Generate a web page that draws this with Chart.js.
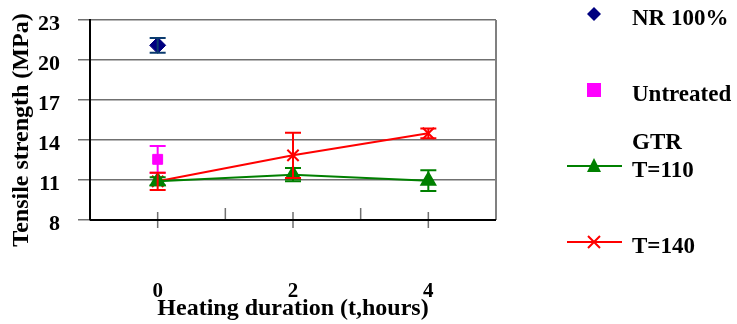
<!DOCTYPE html>
<html>
<head>
    <title>Tensile strength</title>
    <script src='https://cdn.jsdelivr.net/npm/chart.js'></script>
    <style>
        html, body { margin: 0; padding: 0; background: #fff; }
        #wrap { width: 737px; height: 324px; position: relative; }
    </style>
</head>
<body>
    <div id="wrap"><canvas id="tsChart"></canvas></div>
    <script>
        const hours = ['0', '2', '4'];
        const yTicks = [8, 11, 14, 17, 20, 23];

        const nrValues = [21.1, null, null];
        const nrErrors = [0.55, null, null];
        const untreatedValues = [12.55, null, null];
        const untreatedErrors = [1.0, null, null];
        const t110Values = [10.9, 11.4, 10.95];
        const t110Errors = [0.3, 0.5, 0.78];
        const t140Values = [10.9, 12.85, 14.5];
        const t140Errors = [0.65, 1.7, 0.37];

        const legendLabels = ['NR 100%', 'Untreated', 'T=110', 'T=140'];
        const yTitle = 'Tensile strength (MPa)';

        const serif = "'Liberation Serif', 'Times New Roman', serif";

        // error bars drawn from the error arrays
        const errorBars = {
            id: 'errorBars',
            afterDatasetsDraw(chart) {
                const ctx = chart.ctx;
                const xs = chart.scales.x, ys = chart.scales.y;
                chart.data.datasets.forEach(ds => {
                    ds.data.forEach((v, i) => {
                        const e = ds.errors[i];
                        if (v == null || e == null) return;
                        const x = xs.getPixelForValue(i);
                        const yt = ys.getPixelForValue(v + e);
                        const yb = ys.getPixelForValue(v - e);
                        ctx.save();
                        ctx.strokeStyle = ds.errColor;
                        ctx.lineWidth = 2;
                        ctx.beginPath();
                        ctx.moveTo(x, yt); ctx.lineTo(x, yb);
                        ctx.moveTo(x - 8, yt); ctx.lineTo(x + 8, yt);
                        ctx.moveTo(x - 8, yb); ctx.lineTo(x + 8, yb);
                        ctx.stroke();
                        ctx.restore();
                    });
                });
            }
        };

        // frame, x tick marks, y title and the legend on the right
        const decor = {
            id: 'decor',
            beforeDatasetsDraw(chart) {
                const ctx = chart.ctx;
                const a = chart.chartArea;
                const xs = chart.scales.x;
                ctx.save();
                ctx.strokeStyle = '#808080';
                ctx.lineWidth = 2;
                ctx.beginPath();
                ctx.moveTo(a.right, a.top); ctx.lineTo(a.right, a.bottom);
                ctx.stroke();
                ctx.strokeStyle = '#707070';
                ctx.lineWidth = 1.5;
                ctx.beginPath();
                hours.forEach((h, i) => {
                    const x = xs.getPixelForValue(i);
                    ctx.moveTo(x, a.bottom - 8); ctx.lineTo(x, a.bottom + 8);
                    if (i < hours.length - 1) {
                        const xb = (x + xs.getPixelForValue(i + 1)) / 2;
                        ctx.moveTo(xb, a.bottom - 12); ctx.lineTo(xb, a.bottom);
                    }
                });
                ctx.stroke();
                ctx.strokeStyle = '#000';
                ctx.lineWidth = 2;
                ctx.beginPath();
                ctx.moveTo(a.left, a.bottom); ctx.lineTo(a.right, a.bottom);
                ctx.stroke();
                ctx.restore();
            },
            afterDraw(chart) {
                const ctx = chart.ctx;
                const ds = chart.data.datasets;
                ctx.save();
                // y axis title, a bit below the plot centre as in the original
                ctx.save();
                ctx.translate(22, 130);
                ctx.rotate(-Math.PI / 2);
                ctx.font = 'bold 24px ' + serif;
                ctx.fillStyle = '#000';
                ctx.textAlign = 'center';
                ctx.textBaseline = 'middle';
                ctx.fillText(yTitle, 0, 0);
                ctx.restore();

                ctx.font = 'bold 23px ' + serif;
                ctx.fillStyle = '#000';
                ctx.textBaseline = 'middle';
                ctx.textAlign = 'left';
                // NR 100%
                ctx.fillStyle = ds[0].borderColor;
                ctx.beginPath();
                ctx.moveTo(594, 7); ctx.lineTo(601, 14); ctx.lineTo(594, 21); ctx.lineTo(587, 14);
                ctx.fill();
                ctx.fillStyle = '#000';
                ctx.fillText(legendLabels[0], 632, 19);
                // Untreated
                ctx.fillStyle = ds[1].borderColor;
                ctx.fillRect(587, 83, 14, 14);
                ctx.fillStyle = '#000';
                ctx.fillText(legendLabels[1], 632, 95);
                ctx.fillText('GTR', 632, 143);
                // T=110
                ctx.strokeStyle = ds[2].borderColor;
                ctx.lineWidth = 2;
                ctx.beginPath(); ctx.moveTo(567, 166); ctx.lineTo(622, 166); ctx.stroke();
                ctx.fillStyle = ds[2].borderColor;
                ctx.beginPath();
                ctx.moveTo(594, 158); ctx.lineTo(601, 172); ctx.lineTo(587, 172);
                ctx.fill();
                ctx.fillStyle = '#000';
                ctx.fillText(legendLabels[2], 632, 171);
                // T=140
                ctx.strokeStyle = ds[3].borderColor;
                ctx.beginPath(); ctx.moveTo(567, 242); ctx.lineTo(622, 242); ctx.stroke();
                ctx.beginPath();
                ctx.moveTo(588, 236); ctx.lineTo(600, 248);
                ctx.moveTo(600, 236); ctx.lineTo(588, 248);
                ctx.stroke();
                ctx.fillStyle = '#000';
                ctx.fillText(legendLabels[3], 632, 247);
                ctx.restore();
            }
        };

        new Chart(document.getElementById('tsChart').getContext('2d'), {
            type: 'line',
            data: {
                labels: hours,
                datasets: [{
                    label: legendLabels[0],
                    data: nrValues,
                    errors: nrErrors,
                    errColor: '#0b3b6e',
                    borderColor: '#000080',
                    backgroundColor: '#000080',
                    pointStyle: 'rectRot',
                    pointRadius: 8,
                    showLine: false
                }, {
                    label: legendLabels[1],
                    data: untreatedValues,
                    errors: untreatedErrors,
                    errColor: '#ff00ff',
                    borderColor: '#ff00ff',
                    backgroundColor: '#ff00ff',
                    pointStyle: 'rect',
                    pointRadius: 7,
                    showLine: false
                }, {
                    label: legendLabels[2],
                    data: t110Values,
                    errors: t110Errors,
                    errColor: '#008000',
                    borderColor: '#008000',
                    backgroundColor: '#008000',
                    borderWidth: 2,
                    pointStyle: 'triangle',
                    pointRadius: 8
                }, {
                    label: legendLabels[3],
                    data: t140Values,
                    errors: t140Errors,
                    errColor: '#ff0000',
                    borderColor: '#ff0000',
                    backgroundColor: '#ff0000',
                    borderWidth: 2,
                    pointStyle: 'crossRot',
                    pointRadius: 8,
                    pointBorderWidth: 2
                }]
            },
            options: {
                responsive: true,
                maintainAspectRatio: false,
                animation: false,
                events: [],
                layout: { padding: { top: 20, right: 241, left: 0, bottom: 0 } },
                plugins: {
                    legend: { display: false },
                    tooltip: { enabled: false }
                },
                scales: {
                    x: {
                        offset: true,
                        grid: { display: false, drawTicks: false },
                        border: { display: false },
                        ticks: {
                            color: '#000',
                            padding: 59,
                            font: { family: serif, size: 21, weight: 'bold' }
                        },
                        title: {
                            display: true,
                            text: 'Heating duration (t,hours)',
                            color: '#000',
                            padding: { top: 0, bottom: 1 },
                            font: { family: serif, size: 24, weight: 'bold' }
                        },
                        afterFit(scale) {
                            scale.height = 104;
                            scale.paddingLeft = 0;
                            scale.paddingRight = 0;
                        }
                    },
                    y: {
                        min: 8,
                        max: 23,
                        afterBuildTicks(scale) { scale.ticks = yTicks.map(v => ({ value: v })); },
                        grid: { color: '#707070', lineWidth: 1.5, tickLength: 12 },
                        border: { color: '#000', width: 2 },
                        ticks: {
                            color: '#000',
                            padding: 18,
                            labelOffset: 4,
                            font: { family: serif, size: 22, weight: 'bold' }
                        },
                        title: { display: false },
                        afterFit(scale) {
                            scale.width = 90;
                            scale.paddingTop = 0;
                            scale.paddingBottom = 0;
                        }
                    }
                }
            },
            plugins: [decor, errorBars]
        });
    </script>
</body>
</html>
